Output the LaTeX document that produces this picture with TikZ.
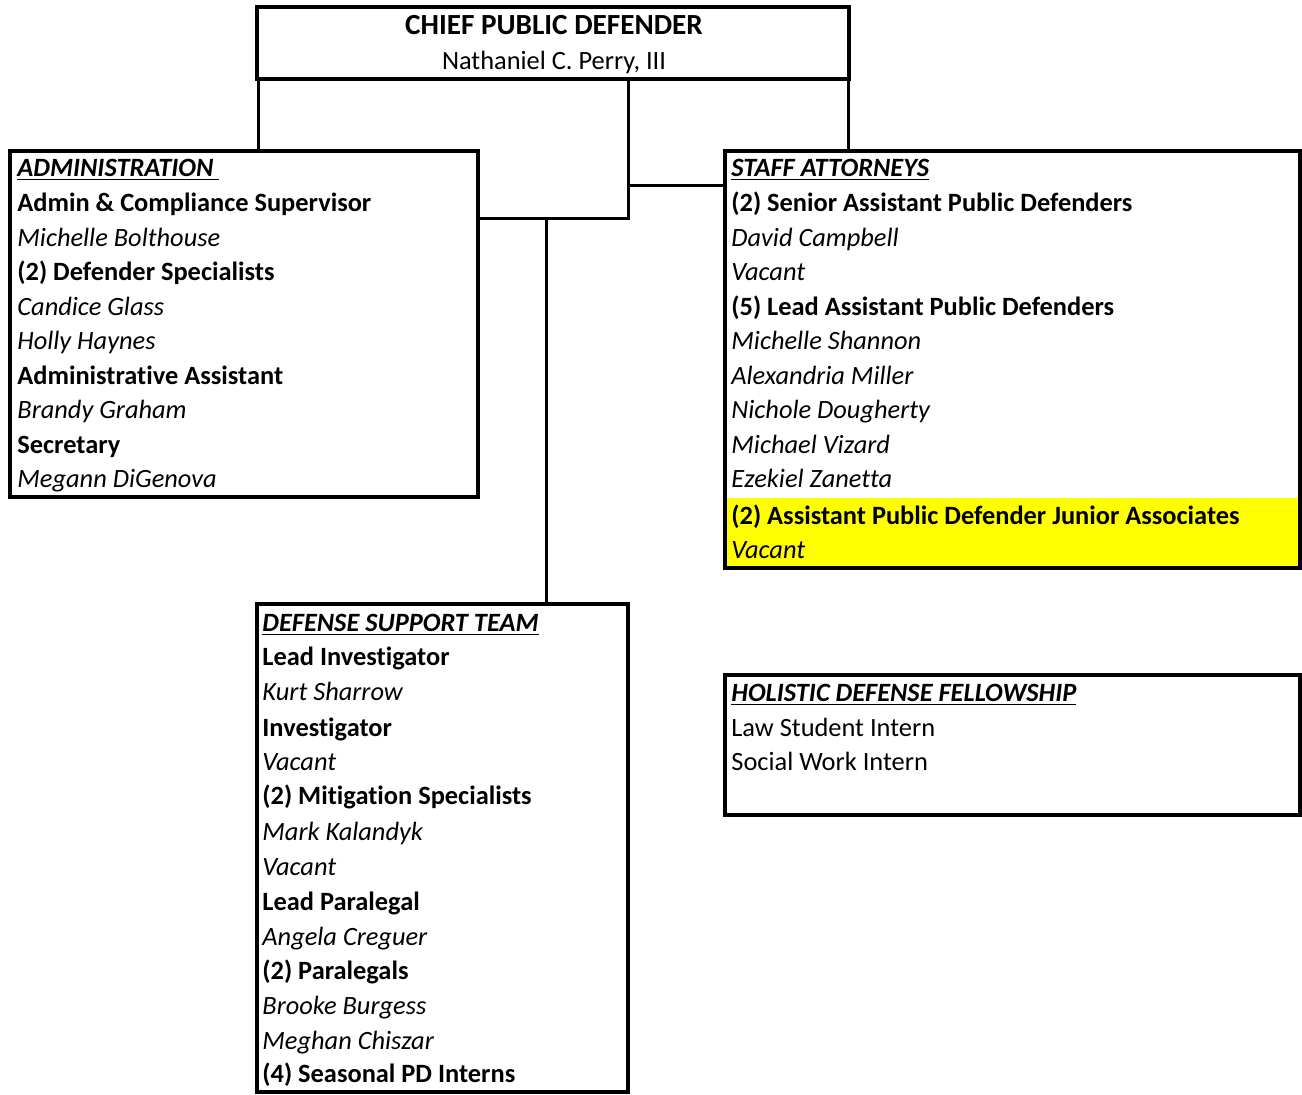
\documentclass[tikz,border=0pt]{standalone}
\usepackage{fontspec}
\setmainfont{Carlito}[Ligatures={NoCommon,NoContextual},Contextuals=NoAlternate]
\definecolor{hl}{RGB}{255,255,0}
\begin{document}
\begin{tikzpicture}[x=0.5pt,y=-0.5pt,
  box/.style={draw,line width=2pt,inner sep=0pt,outer sep=0pt},
  conn/.style={line width=1.5pt},
  txt/.style={anchor=base west,inner sep=0pt,font=\fontsize{13.2}{15}\selectfont},
  bld/.style={txt,font=\fontsize{13.2}{15}\selectfont\bfseries},
  itl/.style={txt,font=\fontsize{13.2}{15}\selectfont\itshape},
  hd/.style={txt,font=\fontsize{13.2}{15}\selectfont\bfseries\itshape}]
\useasboundingbox (0,0) rectangle (1302,1094);
% boxes
\node[box,minimum width=296pt,minimum height=36pt] (chief) at (553,43) {};
\node[box,minimum width=234pt,minimum height=173pt] (admin) at (244,324) {};
\node[fill=hl,inner sep=0pt,minimum width=285.5pt,minimum height=34pt] (yel) at (1012.5,532) {};
\node[box,minimum width=287.5pt,minimum height=208.5pt] (staff) at (1012.5,359.5) {};
\node[box,minimum width=185.5pt,minimum height=244pt] (dst) at (442.5,848) {};
\node[box,minimum width=287.5pt,minimum height=70pt] (hol) at (1012.5,745) {};
% connectors
\coordinate (m) at ([xshift=37.5pt]chief.south);
\coordinate (ha) at ([yshift=53pt]admin.east);
\coordinate (sa) at ([yshift=87.25pt]staff.west);
\coordinate (dt) at ([xshift=51.75pt]dst.north);
\draw[conn] ([xshift=0.5pt]chief.south west) -- ([xshift=0.5pt]chief.south west |- admin.north);
\draw[conn] ([xshift=-0.5pt]chief.south east) -- ([xshift=-0.5pt]chief.south east |- staff.north);
\draw[conn] (m) |- (ha);
\draw[conn] (sa) -- (sa -| m);
\draw[conn] (dt) -- (dt |- ha);
% chief text
\node[anchor=base,inner sep=0pt,font=\fontsize{14.6}{17}\selectfont\bfseries] (c1) at (554,34) {CHIEF PUBLIC DEFENDER};
\node[anchor=base,inner sep=0pt,font=\fontsize{13.2}{15}\selectfont] (c2) at (554,69) {Nathaniel C. Perry, III};
% admin
\node[hd]  (a1)  at (17,176) {\underline{ADMINISTRATION\ }};
\node[bld] (a2)  at (17,211) {Admin \& Compliance Supervisor};
\node[itl] (a3)  at (17,246) {Michelle Bolthouse};
\node[bld] (a4)  at (17,280) {(2) Defender Specialists};
\node[itl] (a5)  at (17,315) {Candice Glass};
\node[itl] (a6)  at (17,349) {Holly Haynes};
\node[bld] (a7)  at (17,384) {Administrat\kern0ptive Assistant};
\node[itl] (a8)  at (17,418) {Brandy Graham};
\node[bld] (a9)  at (17,453) {Secretary};
\node[itl] (a10) at (17,487) {Megann DiGenova};
% staff
\node[hd]  (s1)  at (731,176) {\underline{STAFF ATTORNEYS}};
\node[bld] (s2)  at (731,211) {(2) Senior Assistant Public Defenders};
\node[itl] (s3)  at (731,246) {David Campbell};
\node[itl] (s4)  at (731,280) {Vacant};
\node[bld] (s5)  at (731,315) {(5) Lead Assistant Public Defenders};
\node[itl] (s6)  at (731,349) {Michelle Shannon};
\node[itl] (s7)  at (731,384) {Alexandria Miller};
\node[itl] (s8)  at (731,418) {Nichole Dougherty};
\node[itl] (s9)  at (731,453) {Michael Vizard};
\node[itl] (s10) at (731,487) {Ezekiel Zanet\kern0ptta};
\node[bld] (s11) at (731,524) {(2) Assistant Public Defender Junior Associates};
\node[itl] (s12) at (731,558) {Vacant};
% defense support team
\node[hd]  (d1)  at (262,631) {\underline{DEFENSE SUPPORT TEAM}};
\node[bld] (d2)  at (262,665) {Lead Invest\kern0ptigator};
\node[itl] (d3)  at (262,700) {Kurt Sharrow};
\node[bld] (d4)  at (262,736) {Invest\kern0ptigator};
\node[itl] (d5)  at (262,770) {Vacant};
\node[bld] (d6)  at (262,804) {(2) Mit\kern0ptigat\kern0ption Specialists};
\node[itl] (d7)  at (262,840) {Mark Kalandyk};
\node[itl] (d8)  at (262,875) {Vacant};
\node[bld] (d9)  at (262,910) {Lead Paralegal};
\node[itl] (d10) at (262,945) {Angela Creguer};
\node[bld] (d11) at (262,979) {(2) Paralegals};
\node[itl] (d12) at (262,1014) {Brooke Burgess};
\node[itl] (d13) at (262,1049) {Meghan Chiszar};
\node[bld] (d14) at (262,1082) {(4) Seasonal PD Interns};
% holistic
\node[hd]  (h1) at (731,701) {\underline{HOLISTIC DEFENSE FELLOWSHIP}};
\node[txt] (h2) at (731,736) {Law Student Intern};
\node[txt] (h3) at (731,770) {Social Work Intern};
\end{tikzpicture}
\end{document}
